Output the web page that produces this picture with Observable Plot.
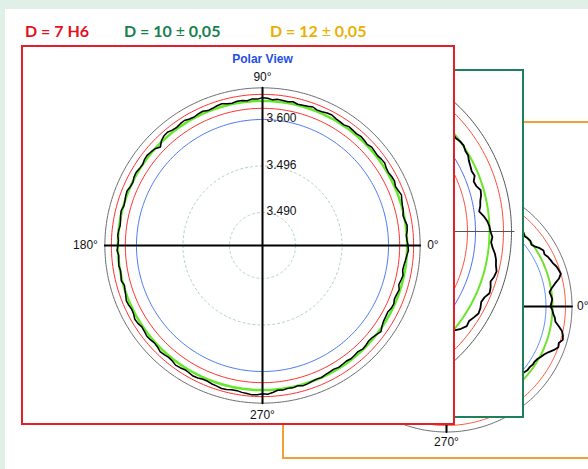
<!DOCTYPE html>
<html><head><meta charset="utf-8">
<script src="https://cdn.jsdelivr.net/npm/d3@7"></script>
<script src="https://cdn.jsdelivr.net/npm/@observablehq/plot@0.6"></script>
<style>
body{margin:0;}
#root{position:relative;width:588px;height:469px;background:#e1efe9;overflow:hidden;font-family:"Liberation Sans",Arial,sans-serif;}
#sheet{position:absolute;left:5px;top:9px;right:0;bottom:0;background:#fff;}
.legend{position:absolute;top:21px;line-height:20px;font-family:Lato,"Open Sans",sans-serif;font-weight:700;font-size:16px;white-space:nowrap;}
.legend .pm{font-weight:400;}
.panel{position:absolute;box-sizing:border-box;border:2px solid;background:#fff;overflow:hidden;}
</style></head><body>
<div id="root"><div id="sheet"></div></div>
<script>
// ---------- data ----------
const legendLabels = ["D = 7 H6", "D = 10 ± 0,05", "D = 12 ± 0,05"];
const legendColors = ["#e3101e", "#17804d", "#eab000"];

const angleLabels = ["0°", "90°", "180°", "270°"];
const titleText = "Polar View";

// main (D = 7 H6) plot, radius in mm
const redTickValues = [3.490, 3.495, 3.500];
const redTickLabels = ["3.490", "3.496", "3.600"];
const redRingValues = [3.5012, 3.5020, 3.5027, 3.5034]; // lower limit, reference, upper limit, outer
const redProfileBase = 3.5020;
const redProfileStart = 0, redProfileStep = 2;
// deviation from reference, 0.1 µm, every 2°
const redProfile = [
  1, 0, -0.5, 1, 1.5, 0, -1, 0.5, 1, 2, 3.5, 2, 1, 2.5, 2, 1, 1.5, 3, 2.5, 1.5,
  2, 2.5, 1, 2, 2.5, 1.5, 2, 2.5, 1, 1.5, 2, 3.5, 3, 2, 1.5, 3, 2, 1.5, 1, 2.5,
  1.5, 2, 2.5, 1.5, 3, 3.5, 2, 2.5, 1, 2, 2, 1, 1.5, 3, 2.5, 1.5, 1, 2.5, 2, 1,
  1.5, 3, 2.5, 1.5, 2, 3.5, 3, 1, -3, 0, 1, 2, 1.5, 0, 0.5, 1.5, 1, -0.5, 0, 1.5,
  1, 0, -0.5, 1, 0.5, -0.5, -1, 0, 0.5, -0.5, 0, 1, -0.5, 0, 0.5, -0.5, 0, 1, -1, 0,
  1, 2.5, 2, 1, 1.5, 3, 2.5, 1, 1.5, 2.5, 2, 1, 1.5, 3, 2.5, 1.5, 2, 3.5, 3, 2,
  2.5, 3.5, 3, 2, 2, 3, 3.5, 4.5, 4, 3, 3, 4, 4.5, 5.5, 5, 4, 4.5, 3, 1, 1.5,
  0.5, 1, 0, 1.5, 1, 0, -0.5, 0, -1, -1.5, -2, -1, -1.5, -2, -1, -1.5, -2, -0.5, -1, -2,
  -1.5, 0, 2, -0.5, -2, -2.5, -3, -1.5, -1, -2.5, -2, -1, -3, -2, -1, -2.5, -2, -1, 0, 1.5
];

// D = 10 plot, deviation in µm from reference ring
const greenRingValues = [-22, -14, 0, 14, 22]; // lower limit, inner, reference, upper limit, outer
const greenProfileStart = -56, greenProfileStep = 2;
const greenProfile = [
  2, 1, 0, 2, 3, 1.5, 1, 2, 1, 5, 8, 7, 9, 11, 10, 8, 9, 12, 11, 9, 11, 12, 10, 9, 7, 4, 2, 3,
  1, 0, -2, -5, -9, -7, -6, -4, -3, -6, -7, -4, -5, -4, -3, -1, -1, 0.5, 0, -1.5, -1, 0, 1, -0.5, -1, 0, 1, 0.5, 0
];

// D = 12 plot, deviation in µm from reference ring
const orangeRingValues = [-6.5, 0, 13, 19.5]; // inner, reference, upper limit, outer
const orangeProfileStart = -60, orangeProfileStep = 2;
const orangeProfile = [
  -3, -2, -4, -3, -3, -4, -5, -3, -4, -5, -4, -3, -3, -2, -2, -1, 1, 3, 6, 10, 13, 12, 15, 14, 12, 8, 4, 3, 1, 0,
  -2, -1, 0, -1, -2, 1, 5, 10, 13, 12, 11, 9, 8, 7, 5, 6, 4, 1, -1, 0.5, 0, -1, 1, 0, 0, 1, 2, 0, 1, 0.5, 0
];

// ---------- drawing ----------
const root = document.getElementById("root");
const legendX = [25, 124, 270];
legendLabels.forEach((t, i) => {
  const s = document.createElement("div");
  s.className = "legend";
  s.style.left = legendX[i] + "px";
  s.style.color = legendColors[i];
  const parts = t.split("±");
  s.append(parts[0]);
  if (parts.length > 1) {
    const pm = document.createElement("span"); pm.className = "pm"; pm.textContent = "±";
    s.append(pm, parts[1]);
  }
  root.appendChild(s);
});

const rad = Math.PI / 180;
function polarPlot(cfg) {
  const {k, v0, size} = cfg;
  const half = size / 2 / k;
  const P = (v, a) => ({x: (v - v0) * Math.cos(a * rad), y: (v - v0) * Math.sin(a * rad)});
  const circle = v => d3.range(0, 361, 1).map(a => P(v, a));
  const marks = [];
  cfg.rings.forEach(r => marks.push(Plot.line(circle(r.v), {x: "x", y: "y", stroke: r.color, strokeWidth: r.width, strokeDasharray: r.dash})));
  cfg.axes.forEach(ax => marks.push(Plot.line([P(ax.v, ax.a), P(ax.v, ax.a + 180)], {x: "x", y: "y", stroke: ax.color, strokeWidth: ax.width})));
  const pr = cfg.profile;
  const pts = pr.values.map((d, i) => P(pr.base + d * pr.unit, pr.start + i * pr.step));
  if (pr.closed) pts.push(pts[0]);
  marks.push(Plot.line(pts, {x: "x", y: "y", stroke: pr.color, strokeWidth: pr.width, strokeLinejoin: "miter"}));
  (cfg.labels || []).forEach(l => marks.push(Plot.text([P(l.v, l.a)], {
    x: "x", y: "y", text: () => l.text, dx: l.dx || 0, dy: l.dy || 0,
    textAnchor: l.anchor || "middle", fill: l.fill || "#111", fontSize: l.size || 12, fontWeight: l.weight || "normal"
  })));
  return Plot.plot({
    width: size, height: size, margin: 0,
    x: {domain: [-half, half], axis: null},
    y: {domain: [-half, half], axis: null},
    style: {background: "transparent", maxWidth: "none", fontFamily: "'Liberation Sans', Arial, sans-serif", overflow: "visible"},
    marks
  });
}

function panel(p, svg) {
  const d = document.createElement("div");
  d.className = "panel";
  Object.assign(d.style, {left: p.left + "px", top: p.top + "px", width: p.width + "px", height: p.height + "px", borderColor: p.color});
  const size = +svg.getAttribute("width");
  svg.style.position = "absolute";
  svg.style.left = (p.center[0] - p.left - 2 - size / 2) + "px";
  svg.style.top = (p.center[1] - p.top - 2 - size / 2) + "px";
  d.appendChild(svg);
  root.appendChild(d);
}

const RED = "#ff2d2d", GRAY = "#6e6e6e";

// orange (back)
const oGray = orangeRingValues[3];
panel({left: 282, top: 121, width: 330, height: 338, color: "#f2a033", center: [446, 306]}, polarPlot({
  k: 1, v0: -106, size: 300,
  rings: [
    {v: orangeRingValues[0], color: "#5b8ef5", width: 1},
    {v: orangeRingValues[1], color: "#74e02e", width: 2},
    {v: orangeRingValues[2], color: "#ff5a3c", width: 1},
    {v: orangeRingValues[3], color: GRAY, width: 1}
  ],
  axes: [{v: oGray, a: 0, color: "#000", width: 2}, {v: oGray, a: 90, color: "#000", width: 2}],
  profile: {values: orangeProfile, base: 0, unit: 1, start: orangeProfileStart, step: orangeProfileStep, color: "#000", width: 1.8},
  labels: [
    {v: oGray, a: 0, text: angleLabels[0], dx: 5, anchor: "start"},
    {v: oGray, a: 270, text: angleLabels[3], dy: 10}
  ]
}));

// green (middle)
const gGray = greenRingValues[4];
panel({left: 150, top: 69, width: 374, height: 349, color: "#1f7f5a", center: [336, 231]}, polarPlot({
  k: 1, v0: -153, size: 420,
  rings: [
    {v: greenRingValues[0], color: "#ff4a3a", width: 1},
    {v: greenRingValues[1], color: "#4a6cf0", width: 1},
    {v: greenRingValues[2], color: "#6ae62a", width: 2},
    {v: greenRingValues[3], color: "#ff4a3a", width: 1},
    {v: greenRingValues[4], color: "#555", width: 1}
  ],
  axes: [{v: gGray + 2.5, a: 0, color: "#555", width: 1}],
  profile: {values: greenProfile, base: 0, unit: 1, start: greenProfileStart, step: greenProfileStep, color: "#000", width: 1.8}
}));

// red (front)
const rGray = redRingValues[3];
panel({left: 21, top: 45, width: 434, height: 380, color: "#e3202a", center: [261.7, 245]}, polarPlot({
  k: 9300, v0: 3.48645, size: 400,
  rings: [
    {v: redTickValues[0], color: "#a9d0cc", width: 1, dash: "2,3"},
    {v: redTickValues[1], color: "#a9d0cc", width: 1, dash: "2,3"},
    {v: redTickValues[2], color: "#4a78f0", width: 1},
    {v: redRingValues[0], color: RED, width: 1},
    {v: redRingValues[1], color: "#66e82a", width: 2.5},
    {v: redRingValues[2], color: RED, width: 1},
    {v: redRingValues[3], color: GRAY, width: 1}
  ],
  axes: [{v: rGray, a: 0, color: "#000", width: 2}, {v: rGray, a: 90, color: "#000", width: 2}],
  profile: {values: redProfile, base: redProfileBase, unit: 0.0001, start: redProfileStart, step: redProfileStep, closed: true, color: "#000", width: 1.5},
  labels: [
    ...redTickValues.map((v, i) => ({v, a: 90, text: redTickLabels[i], dx: 4, dy: -1, anchor: "start"})),
    {v: rGray, a: 0, text: angleLabels[0], dx: 7, anchor: "start"},
    {v: rGray, a: 90, text: angleLabels[1], dy: -11},
    {v: rGray, a: 180, text: angleLabels[2], dx: -7, anchor: "end"},
    {v: rGray, a: 270, text: angleLabels[3], dy: 12},
    {v: rGray, a: 90, text: titleText, dy: -29, fill: "#1f4fe6", weight: "bold"}
  ]
}));
</script></body></html>
